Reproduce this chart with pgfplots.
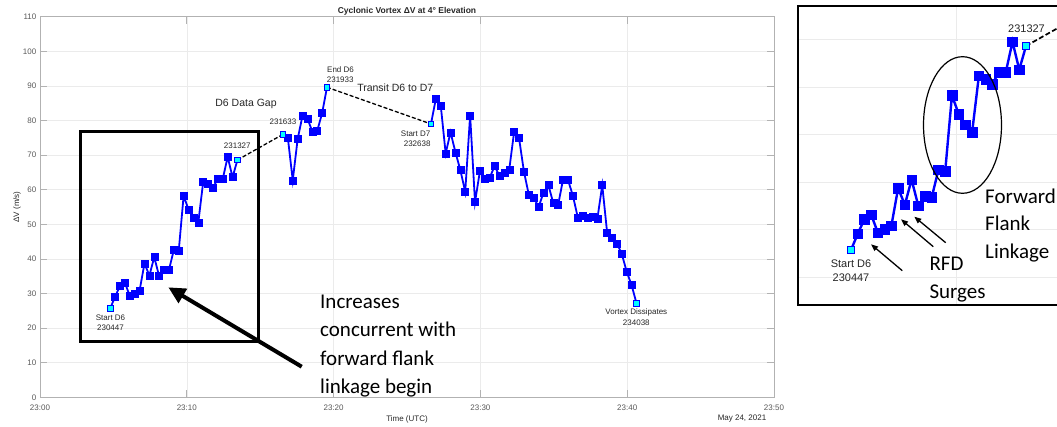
\documentclass[border=0pt]{standalone}
\usepackage{fontspec}
\setmainfont{Liberation Sans}
\newfontfamily\calfont{Carlito}
\usepackage{pgfplots}
\usepackage{pgfplotstable}
\pgfplotsset{compat=1.18}
\usetikzlibrary{arrows.meta}
\definecolor{mblue}{RGB}{0,0,255}
\definecolor{mcyan}{RGB}{0,255,255}
\definecolor{lbl}{RGB}{38,38,38}

\pgfplotstableread{
t v
4.783 25.7
5.117 29.1
5.450 32.2
5.783 33.1
6.117 29.3
6.450 30.0
6.783 30.8
7.117 38.7
7.450 35.2
7.783 40.5
8.117 35.0
8.450 37.0
8.783 36.8
9.117 42.6
9.450 42.3
9.783 58.2
10.117 54.3
10.450 52.0
10.783 50.5
11.117 62.3
11.450 61.6
11.783 60.6
12.117 63.1
12.450 63.1
12.783 69.5
13.117 63.6
13.450 68.6
}\segA

\pgfplotstableread{
t v
16.550 76.0
16.883 75.0
17.217 62.7
17.550 74.6
17.883 81.4
18.217 80.6
18.550 76.8
18.883 77.0
19.217 82.1
19.550 89.6
}\segB

\pgfplotstableread{
t v
26.633 79.0
26.967 86.3
27.300 84.3
27.633 70.5
27.967 76.6
28.300 70.8
28.633 65.7
28.967 59.4
29.300 81.5
29.633 56.4
29.967 65.4
30.300 63.3
30.633 63.5
30.967 66.8
31.300 64.0
31.633 65.0
31.967 65.9
32.300 76.8
32.633 74.9
32.967 65.2
33.300 58.5
33.633 57.7
33.967 55.0
34.300 59.2
34.633 61.3
34.967 56.1
35.300 55.7
35.633 63.0
35.967 62.8
36.300 58.3
36.633 52.0
36.967 52.4
37.300 52.0
37.633 52.1
37.967 51.6
38.300 61.3
38.633 47.6
38.967 46.2
39.300 44.5
39.633 41.4
39.967 36.3
40.300 32.4
40.633 27.2
}\segC

\begin{document}
\begin{tikzpicture}[x=1pt,y=1pt]
\path[use as bounding box] (0pt,0pt) rectangle (1057pt,426pt);

% ---------------- main axis ----------------
\begin{axis}[
  at={(40pt,28.7pt)}, anchor=south west,
  width=734pt, height=380.6pt, scale only axis,
  xmin=0, xmax=50, ymin=0, ymax=110,
  xtick={0,10,20,30,40,50},
  xticklabels={23:00,23:10,23:20,23:30,23:40,23:50},
  ytick={0,10,...,110},
  tick align=inside, major tick length=7pt,
  xtick pos=both, ytick pos=both,
  xticklabel pos=lower, yticklabel pos=left,
  grid=major, major grid style={gray!16, line width=0.6pt},
  axis line style={gray!60, line width=0.7pt},
  tick style={gray!60, line width=0.7pt},
  ticklabel style={font=\fontsize{8}{9.6}\selectfont, text=black!65},
  xticklabel style={inner sep=0pt, yshift=-7pt},
  yticklabel style={inner sep=0pt, xshift=-3.5pt},
  /pgf/number format/assume math mode=true,
]
\addplot[black, line width=1.3pt, dash pattern=on 4pt off 2pt] coordinates {(13.45,68.6) (16.55,76.0)};
\addplot[black, line width=1.3pt, dash pattern=on 4pt off 2pt] coordinates {(19.55,89.6) (26.633,79.0)};
\addplot[mblue, line width=1.8pt, mark=square*, mark size=3.5pt, mark indices={2,...,26}, mark options={fill=mblue, draw=mblue, line width=0.5pt}] table[x=t,y=v] {\segA};
\addplot[mblue, line width=1.8pt, mark=square*, mark size=3.5pt, mark indices={2,...,9}, mark options={fill=mblue, draw=mblue, line width=0.5pt}] table[x=t,y=v] {\segB};
\addplot[mblue, line width=1.8pt, mark=square*, mark size=3.5pt, mark indices={2,...,42}, mark options={fill=mblue, draw=mblue, line width=0.5pt}] table[x=t,y=v] {\segC};
\addplot[only marks, mark=square*, mark size=2.7pt, mark options={fill=mcyan, draw=mblue, line width=0.6pt}] coordinates {(4.783,25.7) (13.45,68.6) (16.55,76.0) (19.55,89.6) (26.633,79.0) (40.633,27.2)};
\end{axis}

% ---------------- inset axis ----------------
\begin{axis}[
  at={(798.3pt,121pt)}, anchor=south west,
  width=262pt, height=299pt, scale only axis,
  xmin=2.173, xmax=15.15, ymin=14.13, ymax=77.01,
  xtick={10}, ytick={20,30,...,70},
  xticklabels={}, yticklabels={},
  major tick length=0pt,
  grid=major, major grid style={gray!16, line width=0.7pt},
  axis line style={black, line width=1.8pt},
]
\addplot[black, line width=1.7pt, dash pattern=on 5pt off 2.5pt] coordinates {(13.45,68.6) (16.55,76.0)};
\addplot[mblue, line width=2.4pt, mark=square*, mark size=4.8pt, mark indices={2,...,26}, mark options={fill=mblue, draw=mblue, line width=0.5pt}] table[x=t,y=v] {\segA};
\addplot[only marks, mark=square*, mark size=3.7pt, mark options={fill=mcyan, draw=mblue, line width=0.8pt}] coordinates {(4.783,25.7) (13.45,68.6)};
\end{axis}

% ---------------- main texts ----------------
\node[font=\bfseries\fontsize{8.5}{10}\selectfont, text=lbl] at (407,415) {Cyclonic Vortex ΔV at 4° Elevation};
\node[font=\fontsize{8}{9.6}\selectfont, text=lbl, rotate=90] at (17,219) {ΔV (m/s)};
\node[font=\fontsize{8}{9.6}\selectfont, text=lbl] at (407,7) {Time (UTC)};
\node[font=\fontsize{8}{9.6}\selectfont, text=lbl] at (742,7) {May 24, 2021};

\begin{scope}[every node/.style={font=\fontsize{8}{9.6}\selectfont, text=lbl, inner sep=0pt}]
\node at (110.5,108.7) {Start D6};
\node at (110.5,98.3) {230447};
\node at (237.3,280) {231327};
\node at (283,304.3) {231633};
\node[anchor=west] at (327,356.7) {End D6};
\node[anchor=west] at (326.7,346.7) {231933};
\node[anchor=east] at (430.5,292.7) {Start D7};
\node[anchor=east] at (430.7,282) {232638};
\node at (636.3,113.7) {Vortex Dissipates};
\node at (636.3,103.3) {234038};
\end{scope}
\node[font=\fontsize{10.5}{12}\selectfont, text=lbl, inner sep=0pt] at (246,321.7) {D6 Data Gap};
\node[font=\fontsize{10.5}{12}\selectfont, text=lbl, inner sep=0pt] at (395.3,338.7) {Transit D6 to D7};

% box and big arrow
\draw[line width=3pt] (80.7,84.3) rectangle (258.3,294.3);
\draw[line width=4pt, -{Triangle[length=17pt,width=16pt]}] (301.7,59.3) -- (168.3,138.7);

\begin{scope}[every node/.style={font=\calfont\fontsize{21}{25}\selectfont, inner sep=0pt, anchor=base west}]
\node at (320,117.7) {Increases};
\node at (320,89.3) {concurrent with};
\node at (320,61) {forward flank};
\node at (320,32.7) {linkage begin};
% inset texts
\node at (985,222.7) {Forward};
\node at (985,195) {Flank};
\node at (985,167.7) {Linkage};
\node at (929.3,155.3) {RFD};
\node at (929.3,127.7) {Surges};
\end{scope}

% inset labels
\begin{scope}[every node/.style={font=\fontsize{11}{13}\selectfont, text=lbl, inner sep=0pt}]
\node at (851,162) {Start D6};
\node at (851,148.3) {230447};
\node at (1026.5,397.7) {231327};
\end{scope}

% inset ellipse and arrows
\draw[line width=1.2pt] (962.5,301) ellipse [x radius=39, y radius=68.3];
\draw[line width=1.3pt, -{Triangle[length=7pt,width=5.5pt]}] (902.3,155.3) -- (871,181.7);
\draw[line width=1.3pt, -{Triangle[length=7pt,width=5.5pt]}] (933.3,179.3) -- (901,206.7);
\draw[line width=1.3pt, -{Triangle[length=7pt,width=5.5pt]}] (945.7,183.3) -- (914.3,209.3);
\end{tikzpicture}
\end{document}
